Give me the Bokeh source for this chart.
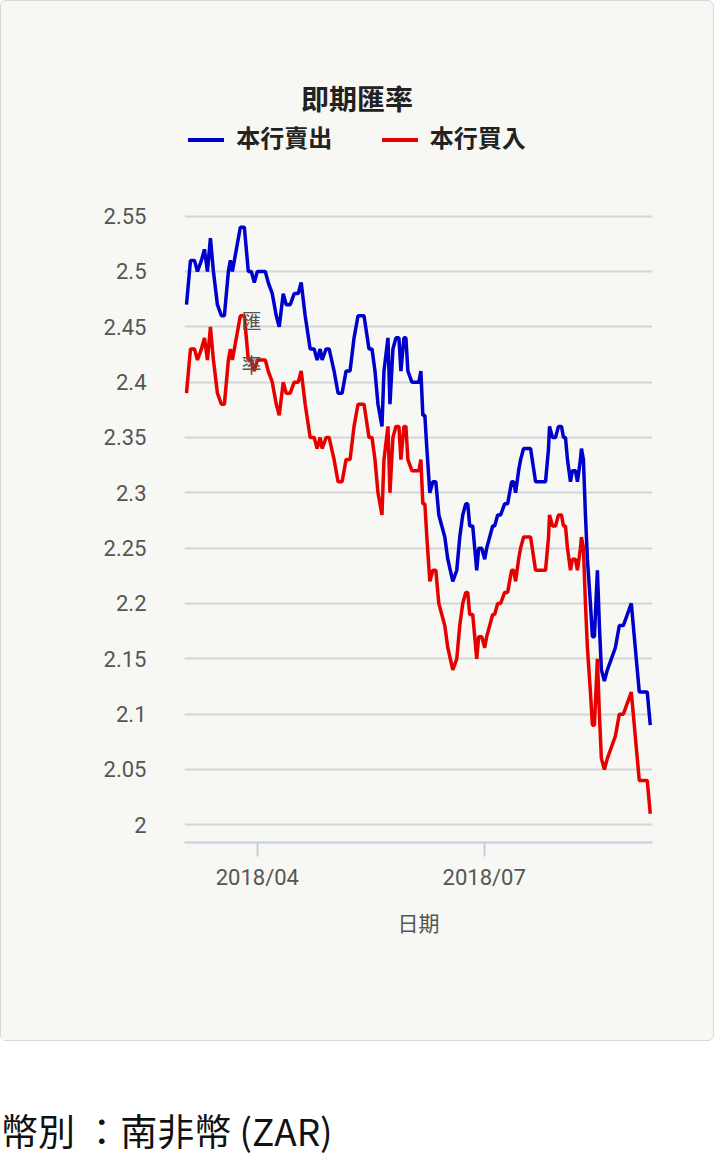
import pandas as pd
from bokeh.plotting import figure
from bokeh.models import Div, FixedTicker, DatetimeTickFormatter, CustomJSTickFormatter, Label, Range1d
from bokeh.layouts import column
from bokeh.embed import file_html
from bokeh.resources import INLINE

# day offsets from 2018-04-01
days = [-28.4,-26.8,-25.2,-24,-22.4,-21.2,-20,-18.8,-17.6,-16,
        -14.4,-13.2,-11.6,-10.8,-10,-8.4,-6.8,-5.2,-3.6,-2.4,
        -1.2,0,1.6,3.2,4.4,6,7.6,8.8,10.4,11.6,
        13.2,14.8,16.4,17.6,19.2,21.2,22.8,24,25.2,26,
        27.6,28.8,30.8,32.4,34,35.6,37.2,38.8,40.4,42.8,
        44.8,46,47.2,48.4,50,50.8,52.4,53.2,54.4,55.6,
        56.8,57.6,58.8,59.6,60.4,62,63.2,64.8,65.6,66.4,
        67.2,68,69.2,70.4,71.6,72.8,74,75.2,76.4,78.4,
        80,81.2,82.4,83.6,84.4,85.2,86.4,87.2,88,88.8,
        90,91.2,92,93.2,94.4,95.2,96.4,97.6,99.2,100.4,
        101.2,102,102.8,103.6,104.8,105.6,106.8,108.4,109.6,111.6,
        114,115.6,116.8,117.2,118.4,119.6,120.8,122,122.8,123.6,
        124.4,125.6,126.4,127.6,128.4,129.6,130,130.8,131.6,132.4,
        133.6,134.4,135.2,136.4,137.2,138,139.2,140.4,142,143.6,
        145.2,146.8,148.4,150,150.8,152,153.2,154.8,156.4,157.6]
sell = [2.47,2.51,2.51,2.50,2.51,2.52,2.50,2.53,2.50,2.47,
        2.46,2.46,2.50,2.51,2.50,2.52,2.54,2.54,2.50,2.50,
        2.49,2.50,2.50,2.50,2.49,2.48,2.46,2.45,2.48,2.47,
        2.47,2.48,2.48,2.49,2.46,2.43,2.43,2.42,2.43,2.42,
        2.43,2.43,2.41,2.39,2.39,2.41,2.41,2.44,2.46,2.46,
        2.43,2.43,2.41,2.38,2.36,2.41,2.44,2.38,2.43,2.44,
        2.44,2.41,2.44,2.44,2.41,2.40,2.40,2.40,2.41,2.37,
        2.37,2.34,2.30,2.31,2.31,2.28,2.27,2.26,2.24,2.22,
        2.23,2.26,2.28,2.29,2.29,2.27,2.27,2.25,2.23,2.25,
        2.25,2.24,2.25,2.26,2.27,2.27,2.28,2.28,2.29,2.29,
        2.30,2.31,2.31,2.30,2.32,2.33,2.34,2.34,2.34,2.31,
        2.31,2.31,2.34,2.36,2.35,2.35,2.36,2.36,2.35,2.35,
        2.33,2.31,2.32,2.32,2.31,2.33,2.34,2.33,2.28,2.24,
        2.20,2.17,2.17,2.23,2.18,2.14,2.13,2.14,2.15,2.16,
        2.18,2.18,2.19,2.20,2.18,2.15,2.12,2.12,2.12,2.09]
buy = [2.39,2.43,2.43,2.42,2.43,2.44,2.42,2.45,2.42,2.39,
       2.38,2.38,2.42,2.43,2.42,2.44,2.46,2.46,2.42,2.42,
       2.41,2.42,2.42,2.42,2.41,2.40,2.38,2.37,2.40,2.39,
       2.39,2.40,2.40,2.41,2.38,2.35,2.35,2.34,2.35,2.34,
       2.35,2.35,2.33,2.31,2.31,2.33,2.33,2.36,2.38,2.38,
       2.35,2.35,2.33,2.30,2.28,2.33,2.36,2.30,2.35,2.36,
       2.36,2.33,2.36,2.36,2.33,2.32,2.32,2.32,2.33,2.29,
       2.29,2.26,2.22,2.23,2.23,2.20,2.19,2.18,2.16,2.14,
       2.15,2.18,2.20,2.21,2.21,2.19,2.19,2.17,2.15,2.17,
       2.17,2.16,2.17,2.18,2.19,2.19,2.20,2.20,2.21,2.21,
       2.22,2.23,2.23,2.22,2.24,2.25,2.26,2.26,2.26,2.23,
       2.23,2.23,2.26,2.28,2.27,2.27,2.28,2.28,2.27,2.27,
       2.25,2.23,2.24,2.24,2.23,2.25,2.26,2.25,2.20,2.16,
       2.12,2.09,2.09,2.15,2.10,2.06,2.05,2.06,2.07,2.08,
       2.10,2.10,2.11,2.12,2.10,2.07,2.04,2.04,2.04,2.01]
y_ticks = [2.0,2.05,2.1,2.15,2.2,2.25,2.3,2.35,2.4,2.45,2.5,2.55]
x_ticks = ["2018-04-01", "2018-07-01"]

base = pd.Timestamp("2018-04-01")
dates = [base + pd.Timedelta(days=d) for d in days]

FONT = "Noto Sans CJK TC"
NUMFONT = "Roboto"
CARD = "#f7f8f4"

header = Div(width=702, height=175, styles={"background": CARD}, text=f"""
<div style="font-family:'{FONT}';width:702px;text-align:center;padding-top:72px;">
<div style="font-size:28px;font-weight:bold;color:#222;">即期匯率</div>
<div style="font-size:24px;font-weight:bold;color:#222;margin-top:2px;">
<span style="display:inline-block;width:36px;height:4px;background:#0000cc;vertical-align:middle;margin-right:12px;"></span>本行賣出
<span style="display:inline-block;width:36px;height:4px;background:#e60000;vertical-align:middle;margin-left:44px;margin-right:12px;"></span>本行買入
</div></div>""")

p = figure(width=702, height=854, x_axis_type="datetime", output_backend="svg", toolbar_location=None,
           min_border_left=183, min_border_right=51, min_border_top=23, min_border_bottom=198,
           background_fill_color=CARD, border_fill_color=CARD, outline_line_color=None,
           y_range=Range1d(1.984, 2.556),
           x_range=Range1d(dates[0] - pd.Timedelta(days=0.8), base + pd.Timedelta(days=158.5)))
p.line(dates, sell, line_color="#0000cc", line_width=3.5)
p.line(dates, buy, line_color="#e60000", line_width=3.5)

p.yaxis.ticker = FixedTicker(ticks=y_ticks)
p.yaxis.formatter = CustomJSTickFormatter(code="return String(Math.round(tick*100)/100);")
p.yaxis.axis_line_color = None
p.yaxis.major_tick_line_color = None
p.yaxis.minor_tick_line_color = None
p.yaxis.major_label_standoff = 32
p.xaxis.ticker = FixedTicker(ticks=[pd.Timestamp(t).value / 1e6 for t in x_ticks])
p.xaxis.formatter = DatetimeTickFormatter(months="%Y/%m", days="%Y/%m", hours="%Y/%m")
p.xaxis.axis_line_color = "#c3cfe0"
p.xaxis.axis_line_width = 2
p.xaxis.major_tick_line_color = "#c3cfe0"
p.xaxis.major_tick_line_width = 2
p.xaxis.major_tick_in = 0
p.xaxis.major_tick_out = 14
p.xaxis.minor_tick_line_color = None
p.xaxis.major_label_standoff = 8
p.xaxis.axis_label = "日期"
p.xaxis.axis_label_standoff = 14
for ax in (p.xaxis, p.yaxis):
    ax.major_label_text_font = NUMFONT
    ax.major_label_text_font_size = "22px"
    ax.major_label_text_color = "#555"
    ax.axis_label_text_font = FONT
    ax.axis_label_text_font_size = "21px"
    ax.axis_label_text_color = "#555"
    ax.axis_label_text_font_style = "normal"
p.xgrid.grid_line_color = None
p.ygrid.grid_line_color = "#d2d6d8"
p.ygrid.grid_line_width = 2

p.add_layout(Label(x=67, y=500, x_units="screen", y_units="screen", text="匯\n率", text_font=FONT,
                   text_font_size="20px", text_color="#555", text_align="center", text_baseline="middle",
                   text_line_height=1.5))

card = column(header, p, styles={"border": "1px solid #d8d8d8", "border-radius": "6px", "background": CARD})
footer = Div(width=704, height=80, text=f"<div style=\"font-family:'{FONT}';font-size:37px;color:#111;margin-top:58px;margin-left:-4px;white-space:nowrap;\">幣別 ：南非幣 (ZAR)</div>")
layout = column(card, footer)
open("out.html", "w").write(file_html(layout, INLINE))
